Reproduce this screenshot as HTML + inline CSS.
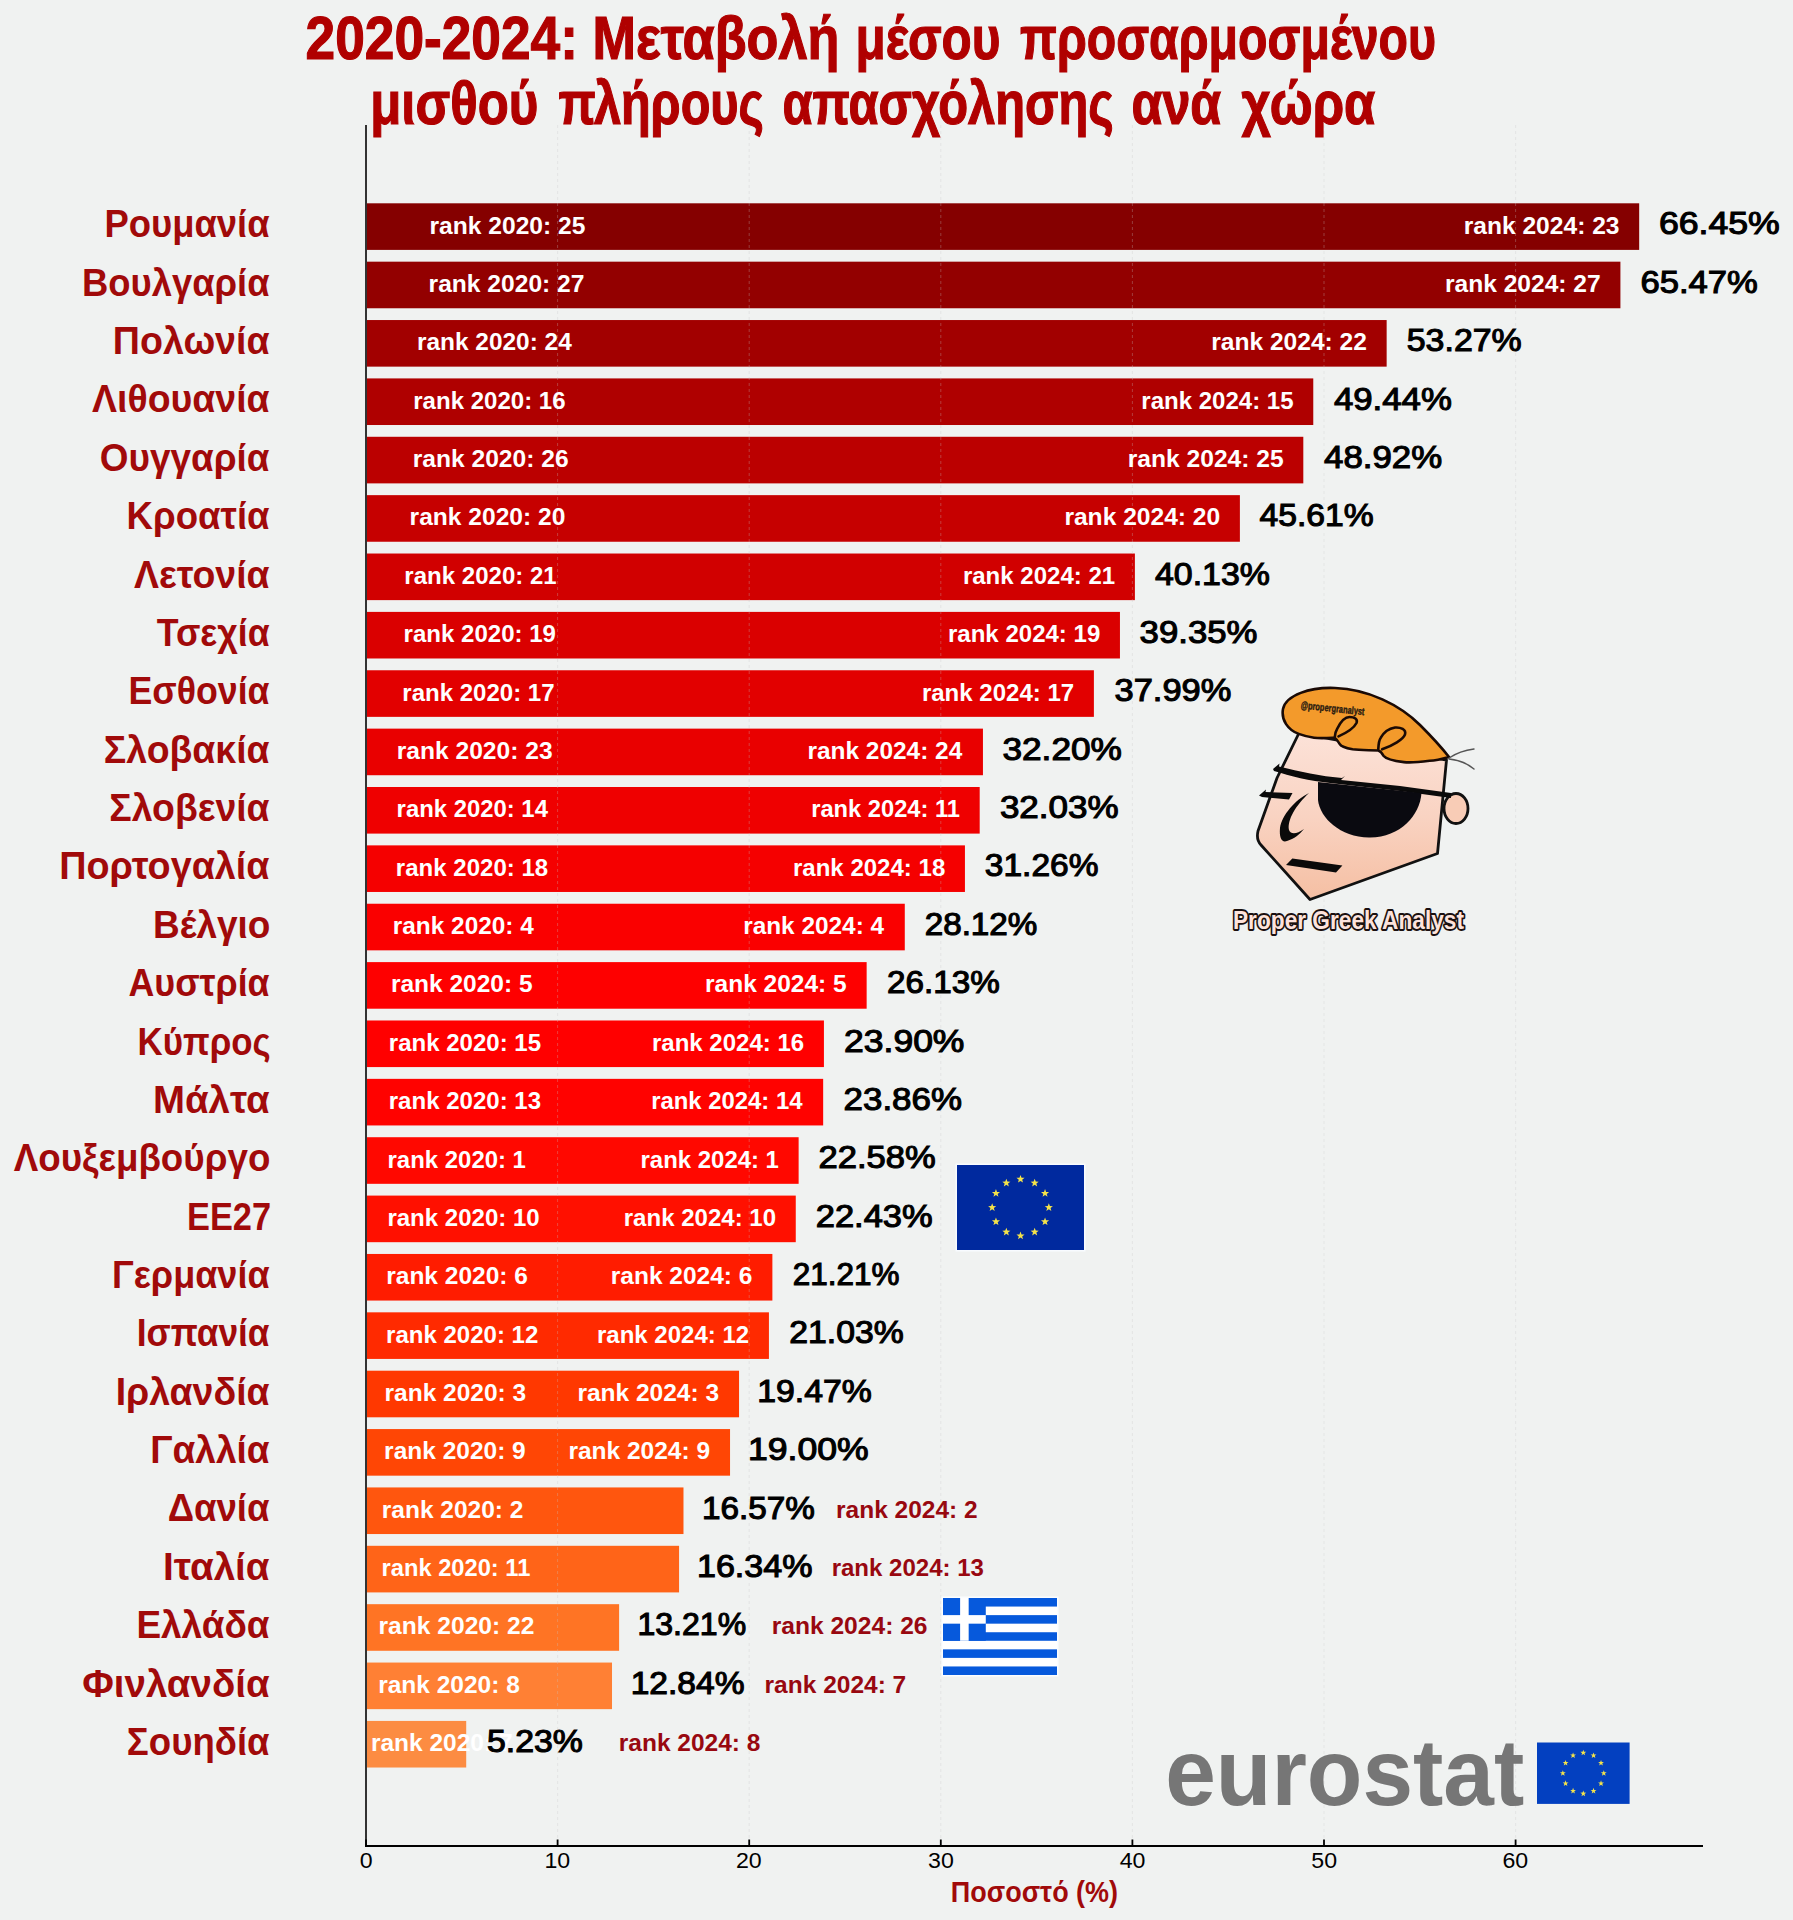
<!DOCTYPE html>
<html><head><meta charset="utf-8"><title>2020-2024 chart</title>
<style>
html,body{margin:0;padding:0;background:#f0f2f1;}
body{width:1793px;height:1920px;overflow:hidden;}
svg{display:block;font-family:"Liberation Sans", sans-serif;}
</style></head><body>
<svg width="1793" height="1920" viewBox="0 0 1793 1920">
<rect x="0" y="0" width="1793" height="1920" fill="#f0f2f1"/>
<rect x="366.00" y="203.30" width="1273.18" height="46.60" fill="#850000"/>
<rect x="366.00" y="261.67" width="1254.41" height="46.60" fill="#930000"/>
<rect x="366.00" y="320.04" width="1020.65" height="46.60" fill="#a20000"/>
<rect x="366.00" y="378.41" width="947.27" height="46.60" fill="#af0000"/>
<rect x="366.00" y="436.78" width="937.31" height="46.60" fill="#bb0000"/>
<rect x="366.00" y="495.15" width="873.89" height="46.60" fill="#c60000"/>
<rect x="366.00" y="553.52" width="768.89" height="46.60" fill="#d10000"/>
<rect x="366.00" y="611.89" width="753.95" height="46.60" fill="#da0000"/>
<rect x="366.00" y="670.26" width="727.89" height="46.60" fill="#e20000"/>
<rect x="366.00" y="728.63" width="616.95" height="46.60" fill="#e90000"/>
<rect x="366.00" y="787.00" width="613.69" height="46.60" fill="#ef0000"/>
<rect x="366.00" y="845.37" width="598.94" height="46.60" fill="#f50000"/>
<rect x="366.00" y="903.74" width="538.78" height="46.60" fill="#fa0000"/>
<rect x="366.00" y="962.11" width="500.65" height="46.60" fill="#fe0000"/>
<rect x="366.00" y="1020.48" width="457.92" height="46.60" fill="#ff0000"/>
<rect x="366.00" y="1078.85" width="457.16" height="46.60" fill="#ff0200"/>
<rect x="366.00" y="1137.22" width="432.63" height="46.60" fill="#ff0800"/>
<rect x="366.00" y="1195.59" width="429.76" height="46.60" fill="#ff1000"/>
<rect x="366.00" y="1253.96" width="406.38" height="46.60" fill="#ff1c00"/>
<rect x="366.00" y="1312.33" width="402.93" height="46.60" fill="#ff2a00"/>
<rect x="366.00" y="1370.70" width="373.05" height="46.60" fill="#ff3800"/>
<rect x="366.00" y="1429.07" width="364.04" height="46.60" fill="#ff4605"/>
<rect x="366.00" y="1487.44" width="317.48" height="46.60" fill="#ff560e"/>
<rect x="366.00" y="1545.81" width="313.07" height="46.60" fill="#ff6418"/>
<rect x="366.00" y="1604.18" width="253.10" height="46.60" fill="#ff7424"/>
<rect x="366.00" y="1662.55" width="246.01" height="46.60" fill="#ff8034"/>
<rect x="366.00" y="1720.92" width="100.21" height="46.60" fill="#fc8c42"/>
<line x1="557.60" y1="125" x2="557.60" y2="1845" stroke="#c8c8c8" stroke-opacity="0.3" stroke-width="1" stroke-dasharray="3 3"/>
<line x1="749.20" y1="125" x2="749.20" y2="1845" stroke="#c8c8c8" stroke-opacity="0.3" stroke-width="1" stroke-dasharray="3 3"/>
<line x1="940.80" y1="125" x2="940.80" y2="1845" stroke="#c8c8c8" stroke-opacity="0.3" stroke-width="1" stroke-dasharray="3 3"/>
<line x1="1132.40" y1="125" x2="1132.40" y2="1845" stroke="#c8c8c8" stroke-opacity="0.3" stroke-width="1" stroke-dasharray="3 3"/>
<line x1="1324.00" y1="125" x2="1324.00" y2="1845" stroke="#c8c8c8" stroke-opacity="0.3" stroke-width="1" stroke-dasharray="3 3"/>
<line x1="1515.60" y1="125" x2="1515.60" y2="1845" stroke="#c8c8c8" stroke-opacity="0.3" stroke-width="1" stroke-dasharray="3 3"/>
<rect x="365" y="125" width="2" height="1721" fill="#333"/>
<rect x="365" y="1845" width="1338" height="2" fill="#000"/>
<rect x="365.10" y="1839.5" width="1.8" height="6" fill="#000"/>
<rect x="556.70" y="1839.5" width="1.8" height="6" fill="#000"/>
<rect x="748.30" y="1839.5" width="1.8" height="6" fill="#000"/>
<rect x="939.90" y="1839.5" width="1.8" height="6" fill="#000"/>
<rect x="1131.50" y="1839.5" width="1.8" height="6" fill="#000"/>
<rect x="1323.10" y="1839.5" width="1.8" height="6" fill="#000"/>
<rect x="1514.70" y="1839.5" width="1.8" height="6" fill="#000"/>
<rect x="955.5" y="1163.5" width="130" height="88" fill="#f8fbff"/><rect x="957.00" y="1165.00" width="127.00" height="85.00" fill="#00299e"/>
<polygon points="1020.50,1174.92 1021.55,1177.72 1024.54,1177.85 1022.20,1179.72 1023.00,1182.60 1020.50,1180.95 1018.00,1182.60 1018.80,1179.72 1016.46,1177.85 1019.45,1177.72" fill="#f4e34a"/>
<polygon points="1034.67,1178.71 1035.72,1181.52 1038.71,1181.65 1036.36,1183.51 1037.16,1186.40 1034.67,1184.75 1032.17,1186.40 1032.97,1183.51 1030.62,1181.65 1033.62,1181.52" fill="#f4e34a"/>
<polygon points="1045.04,1189.08 1046.09,1191.89 1049.08,1192.02 1046.74,1193.88 1047.54,1196.77 1045.04,1195.12 1042.54,1196.77 1043.34,1193.88 1041.00,1192.02 1043.99,1191.89" fill="#f4e34a"/>
<polygon points="1048.83,1203.25 1049.88,1206.06 1052.88,1206.19 1050.53,1208.05 1051.33,1210.94 1048.83,1209.29 1046.34,1210.94 1047.14,1208.05 1044.79,1206.19 1047.78,1206.06" fill="#f4e34a"/>
<polygon points="1045.04,1217.42 1046.09,1220.22 1049.08,1220.35 1046.74,1222.22 1047.54,1225.10 1045.04,1223.45 1042.54,1225.10 1043.34,1222.22 1041.00,1220.35 1043.99,1220.22" fill="#f4e34a"/>
<polygon points="1034.67,1227.79 1035.72,1230.59 1038.71,1230.72 1036.36,1232.59 1037.16,1235.48 1034.67,1233.82 1032.17,1235.48 1032.97,1232.59 1030.62,1230.72 1033.62,1230.59" fill="#f4e34a"/>
<polygon points="1020.50,1231.58 1021.55,1234.39 1024.54,1234.52 1022.20,1236.38 1023.00,1239.27 1020.50,1237.62 1018.00,1239.27 1018.80,1236.38 1016.46,1234.52 1019.45,1234.39" fill="#f4e34a"/>
<polygon points="1006.33,1227.79 1007.38,1230.59 1010.38,1230.72 1008.03,1232.59 1008.83,1235.48 1006.33,1233.82 1003.84,1235.48 1004.64,1232.59 1002.29,1230.72 1005.28,1230.59" fill="#f4e34a"/>
<polygon points="995.96,1217.42 997.01,1220.22 1000.00,1220.35 997.66,1222.22 998.46,1225.10 995.96,1223.45 993.46,1225.10 994.26,1222.22 991.92,1220.35 994.91,1220.22" fill="#f4e34a"/>
<polygon points="992.17,1203.25 993.22,1206.06 996.21,1206.19 993.86,1208.05 994.66,1210.94 992.17,1209.29 989.67,1210.94 990.47,1208.05 988.12,1206.19 991.12,1206.06" fill="#f4e34a"/>
<polygon points="995.96,1189.08 997.01,1191.89 1000.00,1192.02 997.66,1193.88 998.46,1196.77 995.96,1195.12 993.46,1196.77 994.26,1193.88 991.92,1192.02 994.91,1191.89" fill="#f4e34a"/>
<polygon points="1006.33,1178.71 1007.38,1181.52 1010.38,1181.65 1008.03,1183.51 1008.83,1186.40 1006.33,1184.75 1003.84,1186.40 1004.64,1183.51 1002.29,1181.65 1005.28,1181.52" fill="#f4e34a"/>
<rect x="941.50" y="1596.50" width="117.00" height="80.00" fill="#fbfdff"/>
<rect x="943.00" y="1598.00" width="114.00" height="77.00" fill="#0659dc"/>
<rect x="943.00" y="1606.56" width="114.00" height="8.56" fill="#ffffff"/>
<rect x="943.00" y="1623.67" width="114.00" height="8.56" fill="#ffffff"/>
<rect x="943.00" y="1640.78" width="114.00" height="8.56" fill="#ffffff"/>
<rect x="943.00" y="1657.89" width="114.00" height="8.56" fill="#ffffff"/>
<rect x="943.00" y="1598.00" width="42.78" height="42.78" fill="#0659dc"/>
<rect x="943.00" y="1615.11" width="42.78" height="8.56" fill="#ffffff"/>
<rect x="960.11" y="1598.00" width="8.56" height="42.78" fill="#ffffff"/>
<rect x="1537.00" y="1742.50" width="92.60" height="61.40" fill="#0340c0"/>
<polygon points="1583.30,1749.66 1584.06,1751.69 1586.22,1751.78 1584.53,1753.13 1585.10,1755.22 1583.30,1754.02 1581.50,1755.22 1582.07,1753.13 1580.38,1751.78 1582.54,1751.69" fill="#f4e34a"/>
<polygon points="1593.53,1752.41 1594.29,1754.43 1596.45,1754.53 1594.76,1755.87 1595.34,1757.96 1593.53,1756.76 1591.73,1757.96 1592.31,1755.87 1590.61,1754.53 1592.78,1754.43" fill="#f4e34a"/>
<polygon points="1601.02,1759.90 1601.78,1761.92 1603.94,1762.02 1602.25,1763.37 1602.83,1765.45 1601.02,1764.26 1599.22,1765.45 1599.80,1763.37 1598.10,1762.02 1600.27,1761.92" fill="#f4e34a"/>
<polygon points="1603.77,1770.13 1604.52,1772.16 1606.69,1772.25 1604.99,1773.60 1605.57,1775.68 1603.77,1774.49 1601.96,1775.68 1602.54,1773.60 1600.85,1772.25 1603.01,1772.16" fill="#f4e34a"/>
<polygon points="1601.02,1780.36 1601.78,1782.39 1603.94,1782.48 1602.25,1783.83 1602.83,1785.92 1601.02,1784.72 1599.22,1785.92 1599.80,1783.83 1598.10,1782.48 1600.27,1782.39" fill="#f4e34a"/>
<polygon points="1593.53,1787.85 1594.29,1789.88 1596.45,1789.98 1594.76,1791.32 1595.34,1793.41 1593.53,1792.21 1591.73,1793.41 1592.31,1791.32 1590.61,1789.98 1592.78,1789.88" fill="#f4e34a"/>
<polygon points="1583.30,1790.60 1584.06,1792.62 1586.22,1792.72 1584.53,1794.07 1585.10,1796.15 1583.30,1794.96 1581.50,1796.15 1582.07,1794.07 1580.38,1792.72 1582.54,1792.62" fill="#f4e34a"/>
<polygon points="1573.07,1787.85 1573.82,1789.88 1575.99,1789.98 1574.29,1791.32 1574.87,1793.41 1573.07,1792.21 1571.26,1793.41 1571.84,1791.32 1570.15,1789.98 1572.31,1789.88" fill="#f4e34a"/>
<polygon points="1565.58,1780.36 1566.33,1782.39 1568.50,1782.48 1566.80,1783.83 1567.38,1785.92 1565.58,1784.72 1563.77,1785.92 1564.35,1783.83 1562.66,1782.48 1564.82,1782.39" fill="#f4e34a"/>
<polygon points="1562.83,1770.13 1563.59,1772.16 1565.75,1772.25 1564.06,1773.60 1564.64,1775.68 1562.83,1774.49 1561.03,1775.68 1561.61,1773.60 1559.91,1772.25 1562.08,1772.16" fill="#f4e34a"/>
<polygon points="1565.58,1759.90 1566.33,1761.92 1568.50,1762.02 1566.80,1763.37 1567.38,1765.45 1565.58,1764.26 1563.77,1765.45 1564.35,1763.37 1562.66,1762.02 1564.82,1761.92" fill="#f4e34a"/>
<polygon points="1573.07,1752.41 1573.82,1754.43 1575.99,1754.53 1574.29,1755.87 1574.87,1757.96 1573.07,1756.76 1571.26,1757.96 1571.84,1755.87 1570.15,1754.53 1572.31,1754.43" fill="#f4e34a"/>
<g id="dexter" stroke-linejoin="round" stroke-linecap="round">
<defs>
<linearGradient id="skin" x1="0" y1="0" x2="0" y2="1">
<stop offset="0" stop-color="#fce2d8"/>
<stop offset="0.5" stop-color="#f9d3c2"/>
<stop offset="1" stop-color="#f5bfa3"/>
</linearGradient>
</defs>
<!-- ear -->
<ellipse cx="1456" cy="808.5" rx="12" ry="15" fill="#f8ccb6" stroke="#111" stroke-width="2.8"/>
<!-- face -->
<path d="M1299 733 L1277 778 L1258 831 Q1256 840 1261 845 L1310 899.5 L1437.5 853.5 L1446.5 760 Z" fill="url(#skin)" stroke="#111" stroke-width="2.8"/>
<!-- hair -->
<path d="M1298.7 733.9 C1288 730 1281 720 1283 709 C1286 695 1310 687 1335 688 C1368 689 1400 705 1420 725 C1432 737 1442 748 1449 757 C1442 759 1436 760.5 1429.6 760.8 C1420 762 1410 763 1403.9 762.1 C1395 761 1386 759 1383.4 755.7 C1382 753 1380 751 1378.3 750.5 C1370 750 1360 750.5 1352.6 749.3 C1346 748 1341 746.5 1339.8 744.1 C1338 741 1336.5 739 1334.7 737.7 C1328 738 1320 738.5 1314.1 737.7 C1308 737 1303 735.5 1298.7 733.9 Z" fill="#f39a2b" stroke="#1a0a05" stroke-width="2.6"/>
<!-- curls -->
<path d="M1334.7 737.7 C1335 733 1336 730.5 1337.2 728.7 C1340 723 1344 717 1349.5 717 C1354.5 717 1358 719 1356.5 723 C1354 728 1346 733 1338.5 736.4" fill="none" stroke="#1a0a05" stroke-width="2.6"/>
<path d="M1378.3 749 C1378.5 744 1379 740 1380.8 737.7 C1384 732 1389 728.5 1395 727.5 C1400.5 727 1406.5 729.5 1405 734.5 C1403 739.5 1393 745.5 1382.1 749.3" fill="none" stroke="#1a0a05" stroke-width="2.6"/>
<!-- whiskers -->
<path d="M1449 758 C1458 752 1466 750 1474 749" fill="none" stroke="#555" stroke-width="1.4"/>
<path d="M1449 759 C1460 760 1468 764 1474 769" fill="none" stroke="#555" stroke-width="1.4"/>
<!-- handle text -->
<text x="1300.5" y="708.5" font-size="10.5" font-weight="bold" fill="#2a1a10" stroke="#2a1a10" stroke-width="0.4" transform="rotate(6 1300 708)" textLength="64" lengthAdjust="spacingAndGlyphs">@propergranalyst</text>
<!-- strap/eyebrow top -->
<path d="M1273 769 L1279.5 763.5 L1279 766.5 C1300 772 1320 776 1342 778 L1345 776 L1341 780 L1400 786 L1451 793 L1451 798 L1400 791 L1330 783 C1310 781 1290 776 1274 771 Z" fill="#0a0a0a"/>
<!-- lens -->
<path d="M1318 782 L1421.5 793 C1420 815 1400 838 1369 837.5 C1340 837 1320 818 1318 800 Z" fill="#0a0a10"/>
<!-- left eyebrow -->
<path d="M1259 795.5 L1266 789.5 L1265.5 792 L1292.5 793 L1289 799.5 L1262 797 Z" fill="#0a0a0a"/>
<!-- nose -->
<path d="M1309 793 C1295 800 1282 815 1280 828 C1279 838 1282 843 1287 841 C1294 839 1300 834 1304 829 C1297 834 1291 835 1289 830 C1287 820 1296 805 1309 793 Z" fill="#0a0a0a"/>
<!-- mouth -->
<path d="M1286 864.9 L1292.3 858.5 L1342.4 865.6 L1336 872.6 Z" fill="#0a0a0a"/>
<!-- name -->
<text x="1233" y="928.8" font-size="26.5" font-weight="bold" fill="#fde3dc" stroke="#1a1010" stroke-width="3.8" paint-order="stroke" textLength="231" lengthAdjust="spacingAndGlyphs">Proper Greek Analyst</text>
</g>

<text x="305.55" y="58.60" font-size="61" font-weight="bold" fill="#b00000" textLength="272.38" lengthAdjust="spacingAndGlyphs" stroke="#b00000" stroke-width="1.2">2020-2024:</text>
<text x="592.48" y="58.60" font-size="61" font-weight="bold" fill="#b00000" textLength="246.92" lengthAdjust="spacingAndGlyphs" stroke="#b00000" stroke-width="1.2">Μεταβολή</text>
<text x="855.47" y="58.60" font-size="61" font-weight="bold" fill="#b00000" textLength="144.96" lengthAdjust="spacingAndGlyphs" stroke="#b00000" stroke-width="1.2">μέσου</text>
<text x="1020.01" y="58.60" font-size="61" font-weight="bold" fill="#b00000" textLength="415.97" lengthAdjust="spacingAndGlyphs" stroke="#b00000" stroke-width="1.2">προσαρμοσμένου</text>
<text x="370.27" y="124.00" font-size="61" font-weight="bold" fill="#b00000" textLength="168.12" lengthAdjust="spacingAndGlyphs" stroke="#b00000" stroke-width="1.2">μισθού</text>
<text x="558.50" y="124.00" font-size="61" font-weight="bold" fill="#b00000" textLength="205.37" lengthAdjust="spacingAndGlyphs" stroke="#b00000" stroke-width="1.2">πλήρους</text>
<text x="782.40" y="124.00" font-size="61" font-weight="bold" fill="#b00000" textLength="331.38" lengthAdjust="spacingAndGlyphs" stroke="#b00000" stroke-width="1.2">απασχόλησης</text>
<text x="1131.55" y="124.00" font-size="61" font-weight="bold" fill="#b00000" textLength="89.66" lengthAdjust="spacingAndGlyphs" stroke="#b00000" stroke-width="1.2">ανά</text>
<text x="1241.60" y="124.00" font-size="61" font-weight="bold" fill="#b00000" textLength="133.72" lengthAdjust="spacingAndGlyphs" stroke="#b00000" stroke-width="1.2">χώρα</text>
<text x="104.43" y="237.35" font-size="39" font-weight="bold" fill="#a10a0a" textLength="165.14" lengthAdjust="spacingAndGlyphs">Ρουμανία</text>
<text x="429.56" y="233.60" font-size="24.5" font-weight="bold" fill="#ffffff" textLength="155.83" lengthAdjust="spacingAndGlyphs">rank 2020: 25</text>
<text x="1658.90" y="234.40" font-size="31" font-weight="normal" fill="#000000" textLength="120.80" lengthAdjust="spacingAndGlyphs" stroke="#000" stroke-width="1.1">66.45%</text>
<text x="1463.68" y="233.60" font-size="24.5" font-weight="bold" fill="#ffffff" textLength="155.83" lengthAdjust="spacingAndGlyphs">rank 2024: 23</text>
<text x="81.93" y="295.72" font-size="39" font-weight="bold" fill="#a10a0a" textLength="187.64" lengthAdjust="spacingAndGlyphs">Βουλγαρία</text>
<text x="428.62" y="291.97" font-size="24.5" font-weight="bold" fill="#ffffff" textLength="155.83" lengthAdjust="spacingAndGlyphs">rank 2020: 27</text>
<text x="1640.43" y="292.77" font-size="31" font-weight="normal" fill="#000000" textLength="117.35" lengthAdjust="spacingAndGlyphs" stroke="#000" stroke-width="1.1">65.47%</text>
<text x="1444.90" y="291.97" font-size="24.5" font-weight="bold" fill="#ffffff" textLength="155.83" lengthAdjust="spacingAndGlyphs">rank 2024: 27</text>
<text x="112.87" y="354.09" font-size="39" font-weight="bold" fill="#a10a0a" textLength="156.70" lengthAdjust="spacingAndGlyphs">Πολωνία</text>
<text x="416.94" y="350.34" font-size="24.5" font-weight="bold" fill="#ffffff" textLength="154.82" lengthAdjust="spacingAndGlyphs">rank 2020: 24</text>
<text x="1406.76" y="351.14" font-size="31" font-weight="normal" fill="#000000" textLength="115.01" lengthAdjust="spacingAndGlyphs" stroke="#000" stroke-width="1.1">53.27%</text>
<text x="1211.15" y="350.34" font-size="24.5" font-weight="bold" fill="#ffffff" textLength="155.83" lengthAdjust="spacingAndGlyphs">rank 2024: 22</text>
<text x="92.10" y="412.46" font-size="39" font-weight="bold" fill="#a10a0a" textLength="177.48" lengthAdjust="spacingAndGlyphs">Λιθουανία</text>
<text x="413.28" y="408.71" font-size="24.5" font-weight="bold" fill="#ffffff" textLength="152.29" lengthAdjust="spacingAndGlyphs">rank 2020: 16</text>
<text x="1333.95" y="409.51" font-size="31" font-weight="normal" fill="#000000" textLength="117.93" lengthAdjust="spacingAndGlyphs" stroke="#000" stroke-width="1.1">49.44%</text>
<text x="1141.29" y="408.71" font-size="24.5" font-weight="bold" fill="#ffffff" textLength="152.29" lengthAdjust="spacingAndGlyphs">rank 2024: 15</text>
<text x="99.85" y="470.83" font-size="39" font-weight="bold" fill="#a10a0a" textLength="169.72" lengthAdjust="spacingAndGlyphs">Ουγγαρία</text>
<text x="412.76" y="467.08" font-size="24.5" font-weight="bold" fill="#ffffff" textLength="155.83" lengthAdjust="spacingAndGlyphs">rank 2020: 26</text>
<text x="1324.05" y="467.88" font-size="31" font-weight="normal" fill="#000000" textLength="118.03" lengthAdjust="spacingAndGlyphs" stroke="#000" stroke-width="1.1">48.92%</text>
<text x="1127.80" y="467.08" font-size="24.5" font-weight="bold" fill="#ffffff" textLength="155.83" lengthAdjust="spacingAndGlyphs">rank 2024: 25</text>
<text x="126.62" y="529.20" font-size="39" font-weight="bold" fill="#a10a0a" textLength="142.95" lengthAdjust="spacingAndGlyphs">Κροατία</text>
<text x="409.59" y="525.45" font-size="24.5" font-weight="bold" fill="#ffffff" textLength="155.83" lengthAdjust="spacingAndGlyphs">rank 2020: 20</text>
<text x="1259.45" y="526.25" font-size="31" font-weight="normal" fill="#000000" textLength="114.21" lengthAdjust="spacingAndGlyphs" stroke="#000" stroke-width="1.1">45.61%</text>
<text x="1064.38" y="525.45" font-size="24.5" font-weight="bold" fill="#ffffff" textLength="155.83" lengthAdjust="spacingAndGlyphs">rank 2024: 20</text>
<text x="134.00" y="587.57" font-size="39" font-weight="bold" fill="#a10a0a" textLength="135.58" lengthAdjust="spacingAndGlyphs">Λετονία</text>
<text x="404.36" y="583.82" font-size="24.5" font-weight="bold" fill="#ffffff" textLength="152.29" lengthAdjust="spacingAndGlyphs">rank 2020: 21</text>
<text x="1154.95" y="584.62" font-size="31" font-weight="normal" fill="#000000" textLength="114.92" lengthAdjust="spacingAndGlyphs" stroke="#000" stroke-width="1.1">40.13%</text>
<text x="962.91" y="583.82" font-size="24.5" font-weight="bold" fill="#ffffff" textLength="152.29" lengthAdjust="spacingAndGlyphs">rank 2024: 21</text>
<text x="156.80" y="645.94" font-size="39" font-weight="bold" fill="#a10a0a" textLength="112.78" lengthAdjust="spacingAndGlyphs">Τσεχία</text>
<text x="403.62" y="642.19" font-size="24.5" font-weight="bold" fill="#ffffff" textLength="152.29" lengthAdjust="spacingAndGlyphs">rank 2020: 19</text>
<text x="1139.63" y="642.99" font-size="31" font-weight="normal" fill="#000000" textLength="117.75" lengthAdjust="spacingAndGlyphs" stroke="#000" stroke-width="1.1">39.35%</text>
<text x="947.97" y="642.19" font-size="24.5" font-weight="bold" fill="#ffffff" textLength="152.29" lengthAdjust="spacingAndGlyphs">rank 2024: 19</text>
<text x="128.47" y="704.31" font-size="39" font-weight="bold" fill="#a10a0a" textLength="141.11" lengthAdjust="spacingAndGlyphs">Εσθονία</text>
<text x="402.31" y="700.56" font-size="24.5" font-weight="bold" fill="#ffffff" textLength="152.29" lengthAdjust="spacingAndGlyphs">rank 2020: 17</text>
<text x="1114.54" y="701.36" font-size="31" font-weight="normal" fill="#000000" textLength="116.84" lengthAdjust="spacingAndGlyphs" stroke="#000" stroke-width="1.1">37.99%</text>
<text x="921.91" y="700.56" font-size="24.5" font-weight="bold" fill="#ffffff" textLength="152.29" lengthAdjust="spacingAndGlyphs">rank 2024: 17</text>
<text x="103.84" y="762.68" font-size="39" font-weight="bold" fill="#a10a0a" textLength="165.74" lengthAdjust="spacingAndGlyphs">Σλοβακία</text>
<text x="396.74" y="758.93" font-size="24.5" font-weight="bold" fill="#ffffff" textLength="155.83" lengthAdjust="spacingAndGlyphs">rank 2020: 23</text>
<text x="1002.41" y="759.73" font-size="31" font-weight="normal" fill="#000000" textLength="119.48" lengthAdjust="spacingAndGlyphs" stroke="#000" stroke-width="1.1">32.20%</text>
<text x="807.45" y="758.93" font-size="24.5" font-weight="bold" fill="#ffffff" textLength="154.82" lengthAdjust="spacingAndGlyphs">rank 2024: 24</text>
<text x="109.34" y="821.05" font-size="39" font-weight="bold" fill="#a10a0a" textLength="160.23" lengthAdjust="spacingAndGlyphs">Σλοβενία</text>
<text x="396.61" y="817.30" font-size="24.5" font-weight="bold" fill="#ffffff" textLength="151.31" lengthAdjust="spacingAndGlyphs">rank 2020: 14</text>
<text x="999.92" y="818.10" font-size="31" font-weight="normal" fill="#000000" textLength="118.67" lengthAdjust="spacingAndGlyphs" stroke="#000" stroke-width="1.1">32.03%</text>
<text x="811.23" y="817.30" font-size="24.5" font-weight="bold" fill="#ffffff" textLength="148.77" lengthAdjust="spacingAndGlyphs">rank 2024: 11</text>
<text x="59.16" y="879.42" font-size="39" font-weight="bold" fill="#a10a0a" textLength="210.41" lengthAdjust="spacingAndGlyphs">Πορτογαλία</text>
<text x="395.87" y="875.67" font-size="24.5" font-weight="bold" fill="#ffffff" textLength="152.29" lengthAdjust="spacingAndGlyphs">rank 2020: 18</text>
<text x="984.87" y="876.47" font-size="31" font-weight="normal" fill="#000000" textLength="113.59" lengthAdjust="spacingAndGlyphs" stroke="#000" stroke-width="1.1">31.26%</text>
<text x="792.96" y="875.67" font-size="24.5" font-weight="bold" fill="#ffffff" textLength="152.29" lengthAdjust="spacingAndGlyphs">rank 2024: 18</text>
<text x="153.00" y="937.79" font-size="39" font-weight="bold" fill="#a10a0a" textLength="117.38" lengthAdjust="spacingAndGlyphs">Βέλγιο</text>
<text x="392.84" y="934.04" font-size="24.5" font-weight="bold" fill="#ffffff" textLength="140.92" lengthAdjust="spacingAndGlyphs">rank 2020: 4</text>
<text x="924.68" y="934.84" font-size="31" font-weight="normal" fill="#000000" textLength="112.68" lengthAdjust="spacingAndGlyphs" stroke="#000" stroke-width="1.1">28.12%</text>
<text x="743.18" y="934.04" font-size="24.5" font-weight="bold" fill="#ffffff" textLength="140.92" lengthAdjust="spacingAndGlyphs">rank 2024: 4</text>
<text x="128.50" y="996.16" font-size="39" font-weight="bold" fill="#a10a0a" textLength="141.08" lengthAdjust="spacingAndGlyphs">Αυστρία</text>
<text x="390.93" y="992.41" font-size="24.5" font-weight="bold" fill="#ffffff">rank 2020: 5</text>
<text x="887.08" y="993.21" font-size="31" font-weight="normal" fill="#000000" textLength="112.68" lengthAdjust="spacingAndGlyphs" stroke="#000" stroke-width="1.1">26.13%</text>
<text x="705.05" y="992.41" font-size="24.5" font-weight="bold" fill="#ffffff">rank 2024: 5</text>
<text x="137.61" y="1054.53" font-size="39" font-weight="bold" fill="#a10a0a" textLength="133.13" lengthAdjust="spacingAndGlyphs">Κύπρος</text>
<text x="388.82" y="1050.78" font-size="24.5" font-weight="bold" fill="#ffffff" textLength="152.29" lengthAdjust="spacingAndGlyphs">rank 2020: 15</text>
<text x="844.11" y="1051.58" font-size="31" font-weight="normal" fill="#000000" textLength="120.29" lengthAdjust="spacingAndGlyphs" stroke="#000" stroke-width="1.1">23.90%</text>
<text x="651.94" y="1050.78" font-size="24.5" font-weight="bold" fill="#ffffff" textLength="152.29" lengthAdjust="spacingAndGlyphs">rank 2024: 16</text>
<text x="152.93" y="1112.90" font-size="39" font-weight="bold" fill="#a10a0a" textLength="116.65" lengthAdjust="spacingAndGlyphs">Μάλτα</text>
<text x="388.78" y="1109.15" font-size="24.5" font-weight="bold" fill="#ffffff" textLength="152.29" lengthAdjust="spacingAndGlyphs">rank 2020: 13</text>
<text x="843.63" y="1109.95" font-size="31" font-weight="normal" fill="#000000" textLength="118.26" lengthAdjust="spacingAndGlyphs" stroke="#000" stroke-width="1.1">23.86%</text>
<text x="651.18" y="1109.15" font-size="24.5" font-weight="bold" fill="#ffffff" textLength="151.31" lengthAdjust="spacingAndGlyphs">rank 2024: 14</text>
<text x="13.70" y="1171.27" font-size="39" font-weight="bold" fill="#a10a0a" textLength="256.68" lengthAdjust="spacingAndGlyphs">Λουξεμβούργο</text>
<text x="387.55" y="1167.52" font-size="24.5" font-weight="bold" fill="#ffffff" textLength="138.39" lengthAdjust="spacingAndGlyphs">rank 2020: 1</text>
<text x="818.54" y="1168.32" font-size="31" font-weight="normal" fill="#000000" textLength="117.14" lengthAdjust="spacingAndGlyphs" stroke="#000" stroke-width="1.1">22.58%</text>
<text x="640.56" y="1167.52" font-size="24.5" font-weight="bold" fill="#ffffff" textLength="138.39" lengthAdjust="spacingAndGlyphs">rank 2024: 1</text>
<text x="186.94" y="1229.64" font-size="39" font-weight="bold" fill="#a10a0a" textLength="84.15" lengthAdjust="spacingAndGlyphs">ΕΕ27</text>
<text x="387.41" y="1225.89" font-size="24.5" font-weight="bold" fill="#ffffff" textLength="152.29" lengthAdjust="spacingAndGlyphs">rank 2020: 10</text>
<text x="815.74" y="1226.69" font-size="31" font-weight="normal" fill="#000000" textLength="116.94" lengthAdjust="spacingAndGlyphs" stroke="#000" stroke-width="1.1">22.43%</text>
<text x="623.78" y="1225.89" font-size="24.5" font-weight="bold" fill="#ffffff" textLength="152.29" lengthAdjust="spacingAndGlyphs">rank 2024: 10</text>
<text x="112.05" y="1288.01" font-size="39" font-weight="bold" fill="#a10a0a" textLength="157.53" lengthAdjust="spacingAndGlyphs">Γερμανία</text>
<text x="386.22" y="1284.26" font-size="24.5" font-weight="bold" fill="#ffffff">rank 2020: 6</text>
<text x="792.74" y="1285.06" font-size="31" font-weight="normal" fill="#000000" textLength="106.69" lengthAdjust="spacingAndGlyphs" stroke="#000" stroke-width="1.1">21.21%</text>
<text x="610.78" y="1284.26" font-size="24.5" font-weight="bold" fill="#ffffff">rank 2024: 6</text>
<text x="136.69" y="1346.38" font-size="39" font-weight="bold" fill="#a10a0a" textLength="132.89" lengthAdjust="spacingAndGlyphs">Ισπανία</text>
<text x="386.07" y="1342.63" font-size="24.5" font-weight="bold" fill="#ffffff" textLength="152.29" lengthAdjust="spacingAndGlyphs">rank 2020: 12</text>
<text x="789.26" y="1343.43" font-size="31" font-weight="normal" fill="#000000" textLength="114.40" lengthAdjust="spacingAndGlyphs" stroke="#000" stroke-width="1.1">21.03%</text>
<text x="596.95" y="1342.63" font-size="24.5" font-weight="bold" fill="#ffffff" textLength="152.29" lengthAdjust="spacingAndGlyphs">rank 2024: 12</text>
<text x="115.68" y="1404.75" font-size="39" font-weight="bold" fill="#a10a0a" textLength="153.90" lengthAdjust="spacingAndGlyphs">Ιρλανδία</text>
<text x="384.55" y="1401.00" font-size="24.5" font-weight="bold" fill="#ffffff">rank 2020: 3</text>
<text x="757.27" y="1401.80" font-size="31" font-weight="normal" fill="#000000" textLength="114.59" lengthAdjust="spacingAndGlyphs" stroke="#000" stroke-width="1.1">19.47%</text>
<text x="577.44" y="1401.00" font-size="24.5" font-weight="bold" fill="#ffffff">rank 2024: 3</text>
<text x="150.30" y="1463.12" font-size="39" font-weight="bold" fill="#a10a0a" textLength="119.28" lengthAdjust="spacingAndGlyphs">Γαλλία</text>
<text x="384.10" y="1459.37" font-size="24.5" font-weight="bold" fill="#ffffff">rank 2020: 9</text>
<text x="747.96" y="1460.17" font-size="31" font-weight="normal" fill="#000000" textLength="120.64" lengthAdjust="spacingAndGlyphs" stroke="#000" stroke-width="1.1">19.00%</text>
<text x="568.44" y="1459.37" font-size="24.5" font-weight="bold" fill="#ffffff">rank 2024: 9</text>
<text x="167.66" y="1521.49" font-size="39" font-weight="bold" fill="#a10a0a" textLength="101.92" lengthAdjust="spacingAndGlyphs">Δανία</text>
<text x="381.77" y="1517.74" font-size="24.5" font-weight="bold" fill="#ffffff">rank 2020: 2</text>
<text x="702.10" y="1518.54" font-size="31" font-weight="normal" fill="#000000" textLength="112.85" lengthAdjust="spacingAndGlyphs" stroke="#000" stroke-width="1.1">16.57%</text>
<text x="836.06" y="1517.74" font-size="24.5" font-weight="bold" fill="#980810">rank 2024: 2</text>
<text x="163.02" y="1579.86" font-size="39" font-weight="bold" fill="#a10a0a" textLength="106.56" lengthAdjust="spacingAndGlyphs">Ιταλία</text>
<text x="381.59" y="1576.11" font-size="24.5" font-weight="bold" fill="#ffffff" textLength="148.77" lengthAdjust="spacingAndGlyphs">rank 2020: 11</text>
<text x="696.95" y="1576.91" font-size="31" font-weight="normal" fill="#000000" textLength="115.52" lengthAdjust="spacingAndGlyphs" stroke="#000" stroke-width="1.1">16.34%</text>
<text x="831.67" y="1576.11" font-size="24.5" font-weight="bold" fill="#980810" textLength="152.29" lengthAdjust="spacingAndGlyphs">rank 2024: 13</text>
<text x="136.40" y="1638.23" font-size="39" font-weight="bold" fill="#a10a0a" textLength="133.17" lengthAdjust="spacingAndGlyphs">Ελλάδα</text>
<text x="378.55" y="1634.48" font-size="24.5" font-weight="bold" fill="#ffffff" textLength="155.83" lengthAdjust="spacingAndGlyphs">rank 2020: 22</text>
<text x="637.48" y="1635.28" font-size="31" font-weight="normal" fill="#000000" textLength="108.65" lengthAdjust="spacingAndGlyphs" stroke="#000" stroke-width="1.1">13.21%</text>
<text x="771.68" y="1634.48" font-size="24.5" font-weight="bold" fill="#980810" textLength="155.83" lengthAdjust="spacingAndGlyphs">rank 2024: 26</text>
<text x="82.31" y="1696.60" font-size="39" font-weight="bold" fill="#a10a0a" textLength="187.26" lengthAdjust="spacingAndGlyphs">Φινλανδία</text>
<text x="378.20" y="1692.85" font-size="24.5" font-weight="bold" fill="#ffffff">rank 2020: 8</text>
<text x="630.69" y="1693.65" font-size="31" font-weight="normal" fill="#000000" textLength="113.77" lengthAdjust="spacingAndGlyphs" stroke="#000" stroke-width="1.1">12.84%</text>
<text x="764.59" y="1692.85" font-size="24.5" font-weight="bold" fill="#980810">rank 2024: 7</text>
<text x="126.86" y="1754.97" font-size="39" font-weight="bold" fill="#a10a0a" textLength="142.71" lengthAdjust="spacingAndGlyphs">Σουηδία</text>
<text x="370.91" y="1751.22" font-size="24.5" font-weight="bold" fill="#ffffff">rank 2020: 7</text>
<text x="487.06" y="1752.02" font-size="31" font-weight="normal" fill="#000000" textLength="95.91" lengthAdjust="spacingAndGlyphs" stroke="#000" stroke-width="1.1">5.23%</text>
<text x="618.78" y="1751.22" font-size="24.5" font-weight="bold" fill="#980810">rank 2024: 8</text>
<text x="359.77" y="1868.30" font-size="22.3" font-weight="normal" fill="#000000" textLength="12.88" lengthAdjust="spacingAndGlyphs">0</text>
<text x="544.41" y="1868.30" font-size="22.3" font-weight="normal" fill="#000000" textLength="25.75" lengthAdjust="spacingAndGlyphs">10</text>
<text x="736.01" y="1868.30" font-size="22.3" font-weight="normal" fill="#000000" textLength="25.75" lengthAdjust="spacingAndGlyphs">20</text>
<text x="928.13" y="1868.30" font-size="22.3" font-weight="normal" fill="#000000" textLength="25.75" lengthAdjust="spacingAndGlyphs">30</text>
<text x="1119.73" y="1868.30" font-size="22.3" font-weight="normal" fill="#000000" textLength="25.75" lengthAdjust="spacingAndGlyphs">40</text>
<text x="1311.33" y="1868.30" font-size="22.3" font-weight="normal" fill="#000000" textLength="25.75" lengthAdjust="spacingAndGlyphs">50</text>
<text x="1502.41" y="1868.30" font-size="22.3" font-weight="normal" fill="#000000" textLength="25.75" lengthAdjust="spacingAndGlyphs">60</text>
<text x="950.87" y="1902.30" font-size="29" font-weight="bold" fill="#a10a0a" textLength="167.14" lengthAdjust="spacingAndGlyphs">Ποσοστό (%)</text>
<text x="1165.23" y="1805.30" font-size="95" font-weight="bold" fill="#767676" textLength="359.08" lengthAdjust="spacingAndGlyphs">eurostat</text>
</svg>
</body></html>
